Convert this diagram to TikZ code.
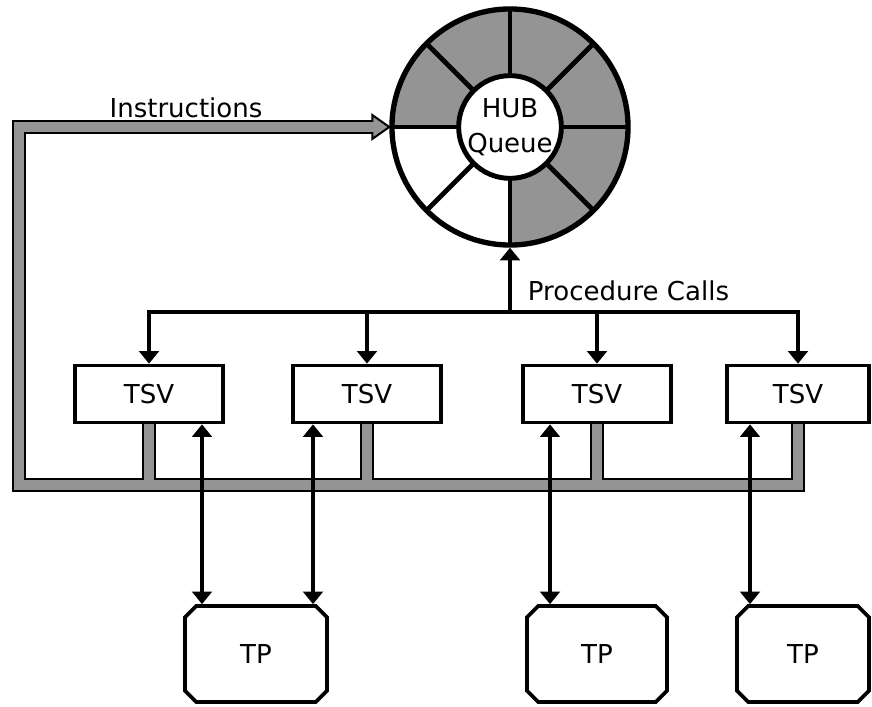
\documentclass[tikz,border=0pt]{standalone}
\usepackage{fontspec}
\setmainfont{DejaVu Sans}
\usetikzlibrary{arrows.meta,shapes.misc,calc,backgrounds}

\tikzset{
    tsv/.style={draw, line width=2.6pt, fill=white, minimum width=3.7cm, minimum height=1.425cm},
    tp/.style={draw, line width=2.6pt, fill=white, chamfered rectangle, chamfered rectangle xsep=4pt, chamfered rectangle ysep=4pt, minimum height=2.4cm},
    wire/.style={line width=2.6pt},
    busout/.style={line width=9.5pt, black},
    busin/.style={line width=6.5pt, black!42},
}

\begin{document}
\begin{tikzpicture}[x=0.025cm, y=0.025cm, font=\fontsize{18.5}{25}\selectfont, >={Triangle[width=14pt,length=9pt]}]
    \useasboundingbox (0,0) rectangle (872,706);
    % hub queue
    \coordinate (hubc) at (510,579);
    \fill[black!42] ($(hubc)+(-90:2.95cm)$) arc[start angle=-90, end angle=180, radius=2.95cm]
        -- ($(hubc)+(180:1.1cm)$) arc[start angle=180, end angle=-90, radius=1.1cm] -- cycle;
    \node (hub) [circle, draw, line width=3.8pt, minimum size=5.9cm, inner sep=0pt] at (hubc) {};
    \foreach \a in {0,45,...,315}
        \draw[line width=3.5pt] ($(hubc)+(\a:1.1cm)$) -- ($(hubc)+(\a:2.95cm)$);
    \node (queue) [circle, draw, line width=3.5pt, fill=white, minimum size=2.2cm, inner sep=0pt, align=center] at (hubc) {HUB\\Queue};
    %
    \draw
    (149,312)node(tsv1)[tsv]{TSV}
    (367,312)node(tsv2)[tsv]{TSV}
    (597,312)node(tsv3)[tsv]{TSV}
    (798,312)node(tsv4)[tsv, minimum width=3.55cm]{TSV}
    (256,52)node(tp1)[tp, minimum width=3.55cm]{TP}
    (597,52)node(tp2)[tp, minimum width=3.5cm]{TP}
    (803,52)node(tp3)[tp, minimum width=3.3cm]{TP};
    %
    \node (instr) at (186,598) {Instructions};
    \node (calls) [anchor=west] at (523,415) {Procedure Calls};
    %
    \coordinate (busL) at (19,221);
    \coordinate (ihead) at ($(hub.west)+(-17,0)$);
    \begin{scope}[on background layer]
        \draw[busout] (tsv4.south) |- (busL) |- (ihead);
        \foreach \t in {tsv1,tsv2,tsv3}
            \draw[busout] (\t.south) -- (\t.south |- busL);
        \filldraw[fill=black!42, line width=1.4pt] ($(ihead)+(0,12)$) -- (hub.west) -- ($(ihead)+(0,-12)$) -- cycle;
        \draw[busin] (tsv4.south) |- (busL) |- ($(hub.west)+(-8,0)$);
        \foreach \t in {tsv1,tsv2,tsv3}
            \draw[busin] (\t.south) -- (\t.south |- busL);
    \end{scope}
    %
    \coordinate (pc) at (510,394);
    \draw [wire,->](pc) -- (hub.south);
    \draw [wire,->](pc) -| (tsv1.north);
    \draw [wire,->](pc) -| (tsv2.north);
    \draw [wire,->](pc) -| (tsv3.north);
    \draw [wire,->](pc) -| (tsv4.north);
    %
    \coordinate (l1) at (202,0);
    \coordinate (l2) at (313,0);
    \coordinate (l3) at (550,0);
    \coordinate (l4) at (750,0);
    \draw [wire,<->](tsv1.south -| l1) -- (tp1.north -| l1);
    \draw [wire,<->](tsv2.south -| l2) -- (tp1.north -| l2);
    \draw [wire,<->](tsv3.south -| l3) -- (tp2.north -| l3);
    \draw [wire,<->](tsv4.south -| l4) -- (tp3.north -| l4);
\end{tikzpicture}
\end{document}
